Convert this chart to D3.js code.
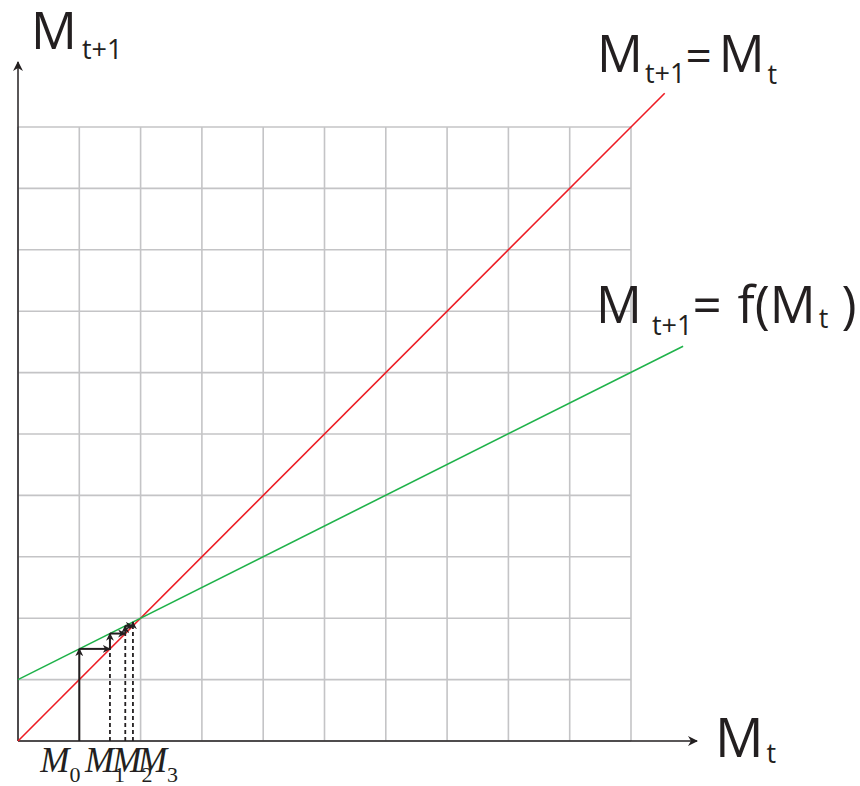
<!DOCTYPE html>
<html>
<head>
<meta charset="utf-8">
<script src="https://cdn.jsdelivr.net/npm/d3@7"></script>
<style>
  body { margin: 0; background: #fff; }
  svg { display: block; }
</style>
</head>
<body>
<div id="chart-area"></div>
<script>
// cobweb diagram for M(t+1) = f(M(t)) = 1 + 0.5 * M(t)

var width = 860, height = 786;

// grid ticks (both axes)
var gridTicks = [0, 1, 2, 3, 4, 5, 6, 7, 8, 9, 10];

// the identity line and the map f, as end points [Mt, Mt+1]
var identityLine = [[0, 0], [10.55, 10.55]];
var fLine = [[0, 1], [10.85, 6.43]];

// iterates
var iterates = [1, 1.5, 1.75, 1.875];
var iterateLabels = ["0", "1", "2", "3"];

var x = d3.scaleLinear().domain([0, 10]).range([18, 631]);
var y = d3.scaleLinear().domain([0, 10]).range([741, 127]);

var svg = d3.select("#chart-area").append("svg")
    .attr("width", width)
    .attr("height", height);

var defs = svg.append("defs");
defs.append("marker")
    .attr("id", "head")
    .attr("viewBox", "0 0 10 10")
    .attr("refX", 9)
    .attr("refY", 5)
    .attr("markerWidth", 10)
    .attr("markerHeight", 10)
    .attr("markerUnits", "userSpaceOnUse")
    .attr("orient", "auto")
    .append("path")
    .attr("d", "M0,0 L10,5 L0,10 L3,5 Z")
    .attr("fill", "#231f20");
defs.append("marker")
    .attr("id", "small")
    .attr("viewBox", "0 0 10 10")
    .attr("refX", 9)
    .attr("refY", 5)
    .attr("markerWidth", 8)
    .attr("markerHeight", 8)
    .attr("markerUnits", "userSpaceOnUse")
    .attr("orient", "auto")
    .append("path")
    .attr("d", "M0,0 L10,5 L0,10 L3,5 Z")
    .attr("fill", "#231f20");

// grid
var grid = svg.append("g").attr("stroke", "#c4c4c6").attr("stroke-width", 1.6);
grid.selectAll(".gv").data(gridTicks).enter().append("line")
    .attr("x1", function(d) { return x(d); })
    .attr("x2", function(d) { return x(d); })
    .attr("y1", y(0))
    .attr("y2", y(10));
grid.selectAll(".gh").data(gridTicks).enter().append("line")
    .attr("x1", x(0))
    .attr("x2", x(10))
    .attr("y1", function(d) { return y(d); })
    .attr("y2", function(d) { return y(d); });

// axes
svg.append("line")
    .attr("x1", x(0)).attr("y1", y(0))
    .attr("x2", x(0)).attr("y2", 62)
    .attr("stroke", "#231f20").attr("stroke-width", 1.5)
    .attr("marker-end", "url(#head)");
svg.append("line")
    .attr("x1", x(0)).attr("y1", y(0))
    .attr("x2", 697).attr("y2", y(0))
    .attr("stroke", "#231f20").attr("stroke-width", 1.5)
    .attr("marker-end", "url(#head)");

// the two lines
var line = d3.line().x(function(d) { return x(d[0]); }).y(function(d) { return y(d[1]); });
svg.append("path").attr("d", line(identityLine))
    .attr("fill", "none").attr("stroke", "#ed1c24").attr("stroke-width", 1.6);
svg.append("path").attr("d", line(fLine))
    .attr("fill", "none").attr("stroke", "#1fb24a").attr("stroke-width", 1.6);

// dashed drops from the later iterates
svg.selectAll(".drop").data(iterates.slice(1)).enter().append("line")
    .attr("x1", function(d) { return x(d); })
    .attr("x2", function(d) { return x(d); })
    .attr("y1", y(0))
    .attr("y2", function(d) { return y(d); })
    .attr("stroke", "#231f20").attr("stroke-width", 1.8)
    .attr("stroke-dasharray", "4,3");

// cobweb steps: up to f, then across to identity
var steps = [];
iterates.forEach(function(m, i) {
    var fm = 1 + 0.5 * m;
    steps.push({ x1: m, y1: i == 0 ? 0 : m, x2: m, y2: fm });
    if (i < iterates.length - 1) {
        steps.push({ x1: m, y1: fm, x2: iterates[i + 1], y2: fm });
    }
});
svg.selectAll(".step").data(steps).enter().append("line")
    .attr("x1", function(d) { return x(d.x1); })
    .attr("y1", function(d) { return y(d.y1); })
    .attr("x2", function(d) { return x(d.x2); })
    .attr("y2", function(d) { return y(d.y2); })
    .attr("stroke", "#231f20").attr("stroke-width", 2)
    .attr("marker-end", "url(#small)");

// iterate labels
var labelDx = [-39, -25, -13, 5];
var lab = svg.selectAll(".mlab").data(iterates).enter().append("text")
    .attr("x", function(d, i) { return x(d) + labelDx[i]; })
    .attr("y", 772)
    .attr("font-family", "Liberation Serif, Times New Roman, serif")
    .attr("fill", "#231f20");
lab.append("tspan").attr("font-size", 35).attr("font-style", "italic").text("M");
lab.append("tspan").attr("font-size", 22).attr("dy", 10)
    .text(function(d, i) { return iterateLabels[i]; });

// equation labels
function eq(x0, y0, parts) {
    var t = svg.append("text").attr("x", x0).attr("y", y0)
        .attr("font-family", "Open Sans, Noto Sans, sans-serif")
        .attr("fill", "#231f20");
    parts.forEach(function(p) {
        var s = t.append("tspan").attr("font-size", p.size).text(p.text);
        if (p.dx != null) s.attr("dx", p.dx);
        if (p.dy != null) s.attr("dy", p.dy);
    });
}
eq(31, 49, [{ text: "M", size: 51 }, { text: "t+1", size: 27, dy: 10, dx: 5 }]);
eq(597, 72, [{ text: "M", size: 51 }, { text: "t+1", size: 27, dy: 11, dx: 2 },
             { text: "=", size: 46, dy: -11, dx: 0 }, { text: "M", size: 51, dx: 7 },
             { text: "t", size: 27, dy: 12, dx: 3 }]);
eq(596, 323, [{ text: "M", size: 51 }, { text: "t+1", size: 27, dy: 12, dx: 10 },
              { text: "=", size: 51, dy: -12, dx: 0 },
              { text: "f(M", size: 51, dx: 16 },
              { text: "t", size: 27, dy: 5, dx: 3 }, { text: " )", size: 51, dy: -5 }]);
eq(715, 757, [{ text: "M", size: 54 }, { text: "t", size: 27, dy: 6, dx: 3 }]);
</script>
</body>
</html>
